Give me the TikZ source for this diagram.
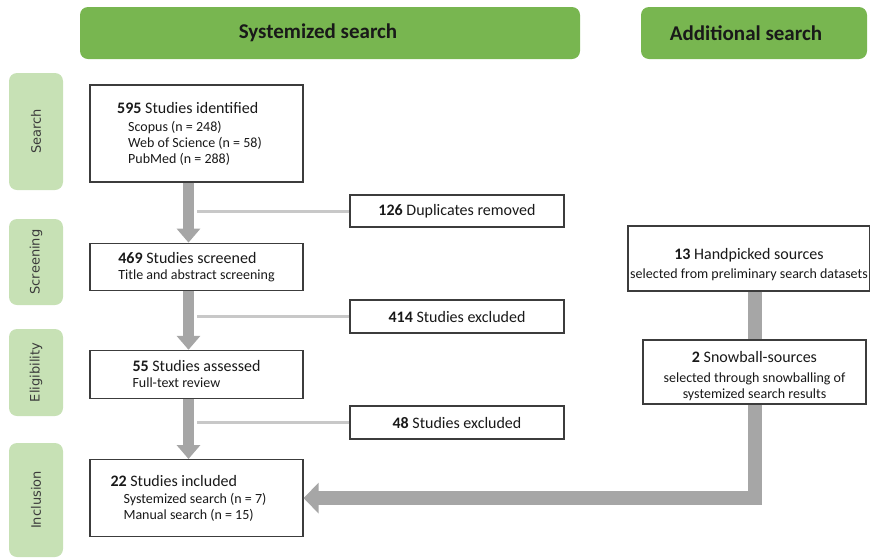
\documentclass[tikz,border=0pt]{standalone}
\usepackage{fontspec}
\setmainfont{Carlito}
\newfontfamily\phasefont{DejaVu Sans}
\usepackage{xcolor}
\usepackage{tikz}
\usetikzlibrary{positioning,arrows.meta}

\definecolor{headgreen}{RGB}{120,182,80}
\definecolor{phasegreen}{RGB}{199,225,181}
\definecolor{arrowgray}{RGB}{166,166,166}
\definecolor{branchgray}{RGB}{200,200,200}
\definecolor{boxline}{RGB}{60,60,60}
\definecolor{ink}{RGB}{25,25,25}

\newcommand{\subfont}{\fontsize{14}{16}\selectfont}
\newcommand{\mainline}[2]{{\fontsize{16}{19}\selectfont\textbf{#1} #2}}
\newcommand{\pad}[1]{\rule{#1}{0pt}}

\begin{document}
\begin{tikzpicture}[
    x=1pt, y=-1pt,
    node distance=60pt and 47pt,
    header/.style={
        rectangle, fill=headgreen, rounded corners=8pt, minimum height=52pt,
        font=\fontsize{21}{24}\selectfont\bfseries, text=ink
    },
    phase/.style={
        rectangle, fill=phasegreen, rounded corners=8pt, rotate=90,
        minimum height=54pt, font=\phasefont\fontsize{13}{15}\selectfont, text=ink!85
    },
    block/.style={
        rectangle, draw=boxline, fill=white, line width=1.2pt,
        minimum width=213pt, align=left, inner sep=2pt, text=ink, font=\subfont
    },
    sideblock/.style={
        rectangle, draw=boxline, fill=white, line width=1.2pt,
        align=center, inner sep=2pt, text=ink, font=\subfont
    },
    flow/.style={draw=arrowgray, line width=11pt, -{Triangle[width=23pt,length=14pt]}},
    branch/.style={draw=branchgray, line width=3pt},
    bar/.style={draw=arrowgray, line width=14pt}
]
    \useasboundingbox (0,0) rectangle (870,558);

    % column headers
    \node [header, minimum width=500pt] (syshead) at (330,33) {Systemized search\hspace*{24pt}};
    \node [header, minimum width=226pt] (addhead) at (754,33) {Additional search\hspace*{16pt}};

    % phases
    \node [phase, minimum width=117pt] (phsearch) at (36,131.5) {Search};
    \node [phase, minimum width=86pt] (phscreen) at (36,262) {Screening};
    \node [phase, minimum width=87pt] (phelig) at (36,372.5) {Eligibility};
    \node [phase, minimum width=114pt] (phincl) at (36,500) {Inclusion};

    % systemized search
    \node [block, minimum height=97pt] (identified) at (196.5,133.5) {
        \mainline{595}{Studies identified}\\[2pt]
        \hspace*{11pt}Scopus (n = 248)\\
        \hspace*{11pt}Web of Science (n = 58)\pad{14pt}\\
        \hspace*{11pt}PubMed (n = 288)
    };
    \node [block, minimum height=47pt, below=of identified] (screened) {
        \mainline{469}{Studies screened}\\
        Title and abstract screening
    };
    \node [block, minimum height=48pt, below=59pt of screened] (assessed) {
        \mainline{55}{Studies assessed}\\
        Full-text review
    };
    \node [block, minimum height=77pt, below=of assessed] (included) {
        \mainline{22}{Studies included}\\[1pt]
        \hspace*{13pt}Systemized search (n = 7)\pad{16pt}\\
        \hspace*{13pt}Manual search (n = 15)
    };

    % removed records
    \node [sideblock, minimum width=214pt, minimum height=32pt] (duplicates) at (457,211) {\mainline{126}{Duplicates removed}};
    \node [sideblock, minimum width=214pt, minimum height=33pt] (excluded1) at (457,316.5) {\mainline{414}{Studies excluded}};
    \node [sideblock, minimum width=214pt, minimum height=33pt] (excluded2) at (457,422.5) {\mainline{48}{Studies excluded}};

    % additional search
    \node [sideblock, minimum width=242pt, minimum height=65pt] (handpicked) at (749,258.5) {
        \rule{0pt}{24pt}\mainline{13}{Handpicked sources}\\[3pt]
        selected from preliminary search datasets
    };
    \node [sideblock, minimum width=223pt, minimum height=64pt] (snowball) at (754.5,372) {
        \rule{0pt}{20pt}\mainline{2}{Snowball-sources}\\[4pt]
        selected through snowballing of\\
        systemized search results
    };

    % connectors
    \draw [branch] (duplicates.west) -- (duplicates.west -| identified.south);
    \draw [branch] (excluded1.west) -- (excluded1.west -| identified.south);
    \draw [branch] (excluded2.west) -- (excluded2.west -| identified.south);
    \draw [flow] ([xshift=-8pt]identified.south) -- ([xshift=-8pt]screened.north);
    \draw [flow] ([xshift=-8pt]screened.south) -- ([xshift=-8pt]assessed.north);
    \draw [flow] ([xshift=-8pt]assessed.south) -- ([xshift=-8pt]included.north);
    \draw [bar] (handpicked.south -| snowball.north) -- (snowball.north);
    \draw [bar, -{Triangle[width=30pt,length=15pt]}] (snowball.south) |- (included.east);
\end{tikzpicture}
\end{document}
